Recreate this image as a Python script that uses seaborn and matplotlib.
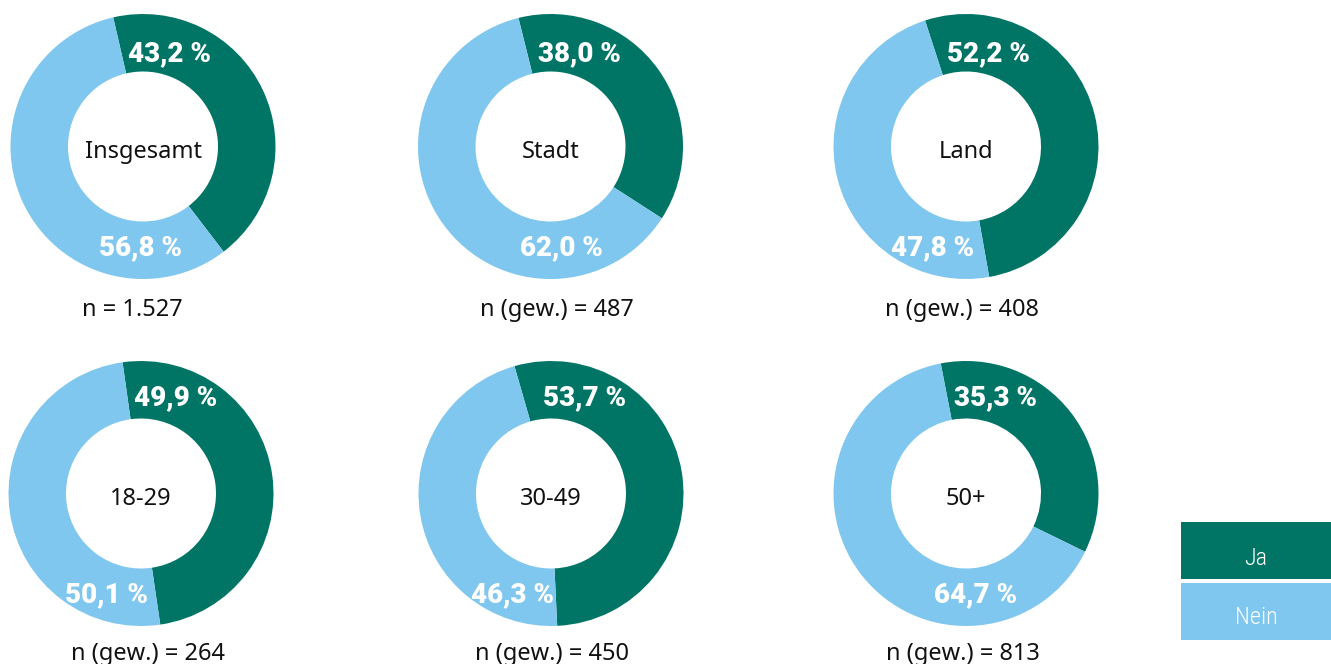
import matplotlib
matplotlib.use("Agg")
import matplotlib.pyplot as plt
from matplotlib import font_manager
from matplotlib.patches import Rectangle
import seaborn as sns

# ---- data ----
groups = ["Insgesamt", "Stadt", "Land", "18-29", "30-49", "50+"]
ja_values = [43.2, 38.0, 52.2, 49.9, 53.7, 35.3]
nein_values = [56.8, 62.0, 47.8, 50.1, 46.3, 64.7]
n_labels = ["n = 1.527", "n (gew.) = 487", "n (gew.) = 408",
            "n (gew.) = 264", "n (gew.) = 450", "n (gew.) = 813"]
legend_labels = ["Ja", "Nein"]

# ---- layout / style ----
W, H = 1331, 664
R = 132.5                      # outer radius in px
centers_px = [(143, 146.5), (550.5, 146.5), (966, 146.5),
              (141, 493.5), (551, 493.5), (966, 493.5)]
start_angles = [103, 104, 108, 98, 106, 101]
ja_label_pos = [(0.20, 0.64), (0.22, 0.64), (0.17, 0.64),
                (0.26, 0.67), (0.25, 0.67), (0.22, 0.67)]
nein_label_pos = [(-0.02, -0.82), (0.08, -0.82), (-0.25, -0.82),
                  (-0.26, -0.82), (-0.29, -0.82), (0.07, -0.82)]
center_label_y = -0.087
n_label_pos = [(-0.079, -1.279), (0.045, -1.279), (-0.033, -1.279),
               (0.052, -1.257), (0.011, -1.257), (-0.026, -1.257)]

sns.set_theme(style="white")
palette = sns.color_palette(["#007565", "#7fc7ee"])

available = {f.name for f in font_manager.fontManager.ttflist}
body_font = ["Noto Sans", "DejaVu Sans"]
pct_font = ["Roboto", "DejaVu Sans"]
legend_font = ["Roboto Condensed"] if "Roboto Condensed" in available else ["Liberation Sans Narrow"]
legend_font = legend_font + ["DejaVu Sans"]
plt.rcParams["font.family"] = body_font

fig = plt.figure(figsize=(W / 100, H / 100), dpi=100)
fig.patch.set_facecolor("white")

for i, g in enumerate(groups):
    cx, cy = centers_px[i]
    ax = fig.add_axes([(cx - R) / W, 1 - (cy + R) / H, 2 * R / W, 2 * R / H])
    ax.pie([ja_values[i], nein_values[i]], colors=palette,
           startangle=start_angles[i], counterclock=False, radius=1,
           wedgeprops=dict(width=1 - 75 / R, linewidth=0, edgecolor="none"))
    ax.set_xlim(-1, 1)
    ax.set_ylim(-1, 1)
    ax.set_aspect("equal")
    ax.axis("off")
    ax.text(0, center_label_y, g, ha="center", va="baseline", fontsize=17,
            family=body_font, color="#111111")
    jx, jy = ja_label_pos[i]
    ax.text(jx, jy, f"{ja_values[i]:.1f} %".replace(".", ","),
            ha="center", va="baseline", fontsize=20, fontweight="heavy",
            family=pct_font, color="white")
    nx, ny = nein_label_pos[i]
    ax.text(nx, ny, f"{nein_values[i]:.1f} %".replace(".", ","),
            ha="center", va="baseline", fontsize=20, fontweight="heavy",
            family=pct_font, color="white")
    tx, ty = n_label_pos[i]
    ax.text(tx, ty, n_labels[i], ha="center", va="baseline",
            fontsize=17, family=body_font, color="#111111", clip_on=False)

# legend block
lx0, ly_top, ly_bot = 1181, 522, 640
lax = fig.add_axes([lx0 / W, 1 - ly_bot / H, (W - lx0) / W, (ly_bot - ly_top) / H])
lax.set_xlim(0, 1)
lax.set_ylim(0, 1)
lax.axis("off")
boxes = [(61 / 118, 1.0), (0.0, 57 / 118)]
text_base = [0.636, 0.136]
for (y0, y1), yb, lab, col in zip(boxes, text_base, legend_labels, palette):
    lax.add_patch(Rectangle((0, y0), 1, y1 - y0, facecolor=col, edgecolor="none"))
    lax.text(0.5, yb, lab, ha="center", va="baseline",
             fontsize=17.5, fontweight="light", color="white", family=legend_font)

fig.savefig("out.png", dpi=100, facecolor="white")
